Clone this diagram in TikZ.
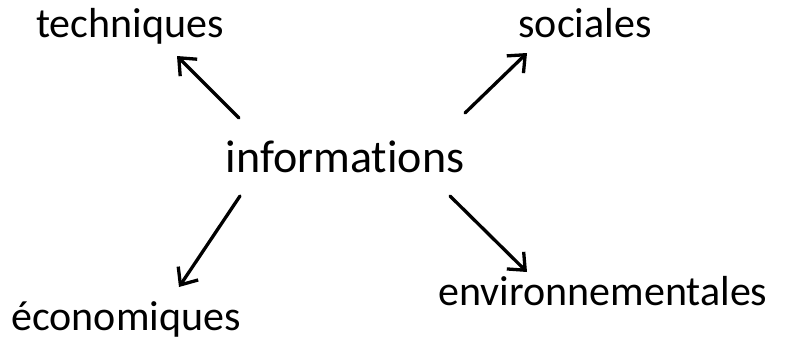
\documentclass[tikz,border=0pt]{standalone}
\usepackage{fontspec}
\setmainfont[RawFeature={-liga}]{Carlito}
\usetikzlibrary{arrows.meta}
\tikzset{
  lbl/.style={inner sep=0pt, anchor=base, font=\fontsize{42}{50}\selectfont},
  big/.style={inner sep=0pt, anchor=base, font=\fontsize{46}{54}\selectfont},
  arr/.style={line width=3.3pt, line cap=round, -{Straight Barb[length=14pt,width=24pt,line width=3.3pt]}}
}
\begin{document}
\begin{tikzpicture}[x=1pt,y=-1pt]
\useasboundingbox (0,0) rectangle (786,349);
\node[lbl] (tech) at (130,37) {techniques};
\node[lbl] (soc) at (585,37) {sociales};
\node[big] (info) at (345,172) {informations};
\node[lbl] (eco) at (126,330) {économiques};
\node[lbl] (env) at (603,305) {environnementales};
\coordinate (a1s) at (239,118); \coordinate (a1e) at (177,56);
\coordinate (a2s) at (465,113); \coordinate (a2e) at (527,53);
\coordinate (a3s) at (240,196); \coordinate (a3e) at (179,287);
\coordinate (a4s) at (450,196); \coordinate (a4e) at (527,272);
\draw[arr] (a1s) -- (a1e);
\draw[arr] (a2s) -- (a2e);
\draw[arr] (a3s) -- (a3e);
\draw[arr] (a4s) -- (a4e);
\end{tikzpicture}
\end{document}
